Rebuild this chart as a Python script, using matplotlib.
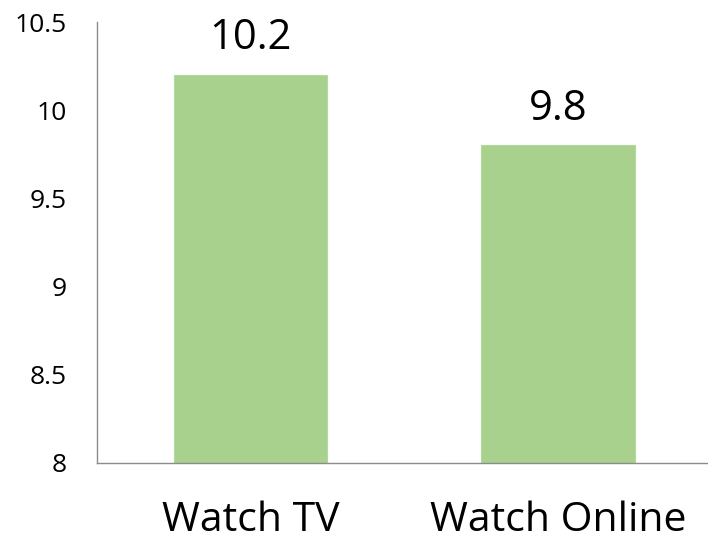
import matplotlib.pyplot as plt

# Chart data
categories = ['Watch TV', 'Watch Online']
values = [10.2, 9.8]
y_ticks = [8, 8.5, 9, 9.5, 10, 10.5]
y_tick_labels = ['8', '8.5', '9', '9.5', '10', '10.5']

plt.rcParams['font.family'] = ['Open Sans', 'DejaVu Sans']

fig = plt.figure(figsize=(7.08, 5.43), dpi=100)
ax = fig.add_axes([97 / 708, 1 - 463 / 543, 1 - 97 / 708 + 0.005, 441 / 543])

x = range(len(categories))
bars = ax.bar(x, values, width=0.5, color='#A9D18E', edgecolor='#B5D99C', linewidth=0.8)

ax.set_ylim(8, 10.5)
ax.set_xlim(-0.5, 1.5)
ax.set_yticks(y_ticks)
ax.set_yticklabels(y_tick_labels, fontsize=19)
ax.set_xticks(list(x))
ax.set_xticklabels(categories, fontsize=29.5)

ax.tick_params(axis='y', length=0, pad=22)
ax.tick_params(axis='x', length=0, pad=27)

for side in ['top', 'right']:
    ax.spines[side].set_visible(False)
for side in ['left', 'bottom']:
    ax.spines[side].set_color('#8c8c8c')
    ax.spines[side].set_linewidth(1.0)

for b, v in zip(bars, values):
    ax.annotate(str(v), (b.get_x() + b.get_width() / 2, v), xytext=(0, 11.5),
                textcoords='offset points', ha='center', va='bottom', fontsize=30)

fig.savefig('out.png', dpi=100)
